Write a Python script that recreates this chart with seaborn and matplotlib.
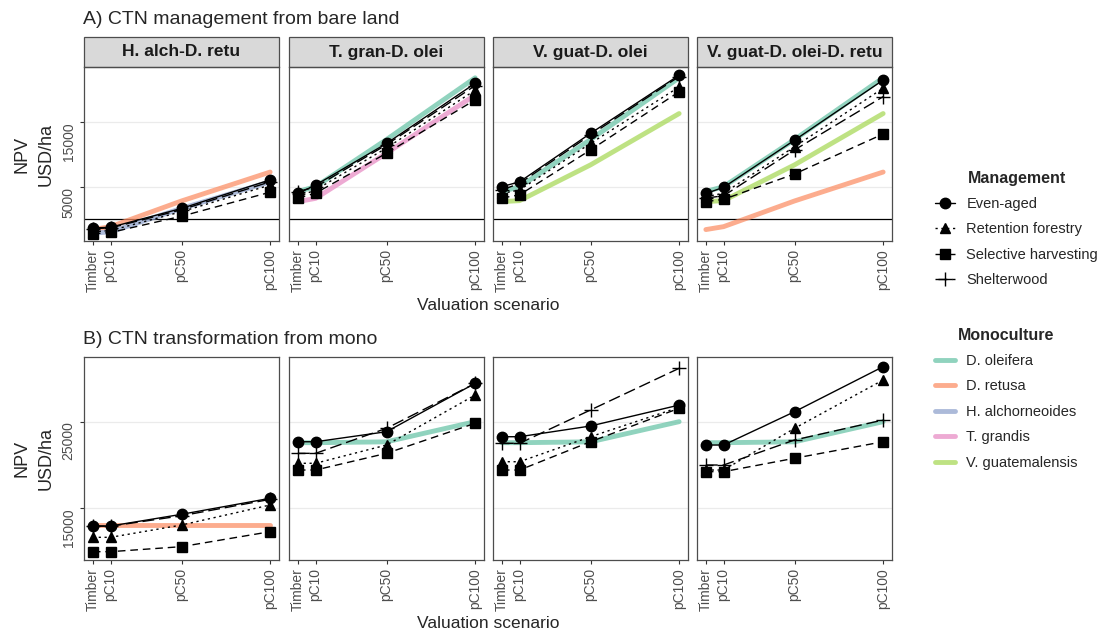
import pandas as pd
import matplotlib.pyplot as plt
import seaborn as sns
from matplotlib.lines import Line2D
from matplotlib.patches import Rectangle

scenarios = ["Timber", "pC10", "pC50", "pC100"]
carbon_price = [0, 10, 50, 100]
mixtures = ["H. alch-D. retu", "T. gran-D. olei", "V. guat-D. olei", "V. guat-D. olei-D. retu"]
managements = ["Even-aged", "Retention forestry", "Selective harvesting", "Shelterwood"]
monocultures = ["D. oleifera", "D. retusa", "H. alchorneoides", "T. grandis", "V. guatemalensis"]

# A) management from bare land, one row per mixture (Timber, pC10, pC50, pC100)
bare_even_aged = [[-1300, -1200, 1700, 6100],
                  [4000, 5300, 11700, 20950],
                  [5050, 5800, 13250, 22200],
                  [4000, 4950, 12200, 21450]]
bare_retention = [[-1900, -1700, 1200, 5300],
                  [3500, 4550, 11000, 19900],
                  [4000, 4550, 11700, 20400],
                  [3500, 4050, 11200, 20200]]
bare_selective = [[-2200, -2000, 500, 4200],
                  [3300, 4050, 10200, 18400],
                  [3300, 3800, 10700, 19650],
                  [2750, 3100, 7000, 13150]]
bare_shelterwood = [[-1400, -1300, 1500, 5800],
                    [4300, 5000, 11500, 20600],
                    [4550, 5550, 13000, 22000],
                    [3300, 3650, 10700, 18900]]

bare_d_oleifera = [4300, 5050, 12300, 21800]
bare_d_retusa = [-1550, -1100, 2850, 7300]
bare_h_alchorneoides = [-2100, -1900, 1700, 5800]
bare_t_grandis = [2750, 3250, 10200, 19150]
bare_v_guatemalensis = [2750, 2900, 8400, 16300]
bare_monos_in_panel = [["D. retusa", "H. alchorneoides"],
                       ["D. oleifera", "T. grandis"],
                       ["D. oleifera", "V. guatemalensis"],
                       ["D. oleifera", "V. guatemalensis", "D. retusa"]]

# B) transformation from monoculture
trans_even_aged = [[12920, 12920, 14270, 16120],
                   [22660, 22660, 23820, 29410],
                   [23240, 23240, 24480, 26900],
                   [22280, 22280, 26130, 31340]]
trans_retention = [[11610, 11610, 13030, 15350],
                   [20170, 20170, 22280, 28060],
                   [20350, 20350, 23240, 26640],
                   [19390, 19390, 24210, 29800]]
trans_selective = [[9950, 9950, 10530, 12260],
                   [19390, 19390, 21320, 24790],
                   [19390, 19390, 22660, 26530],
                   [19200, 19200, 20750, 22660]]
trans_shelterwood = [[12900, 12900, 14100, 16000],
                     [21320, 21320, 24210, 29400],
                     [22480, 22480, 26330, 31150],
                     [19970, 19970, 22860, 25170]]

trans_d_oleifera = [22550, 22550, 22650, 24980]
trans_d_retusa = [13030, 13030, 13030, 13030]
trans_monos_in_panel = [["D. retusa"], ["D. oleifera"], ["D. oleifera"], ["D. oleifera"]]


def management_frame(even, ret, sel, shel):
    rows = []
    for mi, mix in enumerate(mixtures):
        for man, vals in zip(managements, [even, ret, sel, shel]):
            for sc, cp, v in zip(scenarios, carbon_price, vals[mi]):
                rows.append({"Mixture": mix, "Management": man, "Scenario": sc, "Carbon": cp, "NPV": v})
    return pd.DataFrame(rows)


def mono_frame(values, in_panel):
    rows = []
    for mi, mix in enumerate(mixtures):
        for mono in in_panel[mi]:
            for sc, cp, v in zip(scenarios, carbon_price, values[mono]):
                rows.append({"Mixture": mix, "Monoculture": mono, "Scenario": sc, "Carbon": cp, "NPV": v})
    return pd.DataFrame(rows)


bare_man = management_frame(bare_even_aged, bare_retention, bare_selective, bare_shelterwood)
trans_man = management_frame(trans_even_aged, trans_retention, trans_selective, trans_shelterwood)
bare_mono = mono_frame({"D. oleifera": bare_d_oleifera, "D. retusa": bare_d_retusa,
                        "H. alchorneoides": bare_h_alchorneoides, "T. grandis": bare_t_grandis,
                        "V. guatemalensis": bare_v_guatemalensis}, bare_monos_in_panel)
trans_mono = mono_frame({"D. oleifera": trans_d_oleifera, "D. retusa": trans_d_retusa}, trans_monos_in_panel)

sns.set_style("white")
plt.rcParams['font.family'] = ['Liberation Sans', 'DejaVu Sans']

mono_colors = dict(zip(monocultures, sns.color_palette("Set2", 5)))
mono_alpha = 0.72
# seaborn refuses to mix filled and line markers, so "P" stands in for "+" and is swapped after drawing
marker_map = {"Even-aged": "o", "Retention forestry": "^", "Selective harvesting": "s", "Shelterwood": "P"}
dash_map = {"Even-aged": "", "Retention forestry": (1.6, 2.6), "Selective harvesting": (5.5, 3.5), "Shelterwood": (8.5, 3.5)}

W, H = 1099, 635
fig = plt.figure(figsize=(W / 100, H / 100), dpi=100)

lefts = [84, 289, 493, 697]
pw = 195
rows = [
    (bare_man, bare_mono, (67, 241), (-3308, 23462), [5000, 15000], True),
    (trans_man, trans_mono, (357, 560), (8988, 32457), [15000, 25000], False),
]

for man_df, mono_df, (top, bottom), ylim, yticks, top_row in rows:
    for i, mix in enumerate(mixtures):
        ax = fig.add_axes([lefts[i] / W, 1 - bottom / H, pw / W, (bottom - top) / H])
        for yv in yticks:
            ax.axhline(yv, color='#EBEBEB', lw=0.9, zorder=0)
        if top_row:
            ax.axhline(0, color='black', lw=0.9, zorder=1)
        sns.lineplot(data=mono_df[mono_df["Mixture"] == mix], x="Carbon", y="NPV", hue="Monoculture",
                     palette=mono_colors, linewidth=3.5, alpha=mono_alpha, errorbar=None, legend=False, ax=ax)
        sns.lineplot(data=man_df[man_df["Mixture"] == mix], x="Carbon", y="NPV", style="Management",
                     style_order=managements, markers=marker_map, dashes=dash_map, color="black",
                     linewidth=1.0, markersize=7.5, markeredgecolor="black", markeredgewidth=1.0,
                     errorbar=None, legend=False, ax=ax)
        for line in ax.lines:
            if line.get_marker() == 'P':
                line.set_marker('+')
                line.set_markersize(10)
        ax.set_xlim(-5, 105)
        ax.set_ylim(*ylim)
        ax.set_xlabel("")
        ax.set_ylabel("")
        ax.set_xticks(carbon_price)
        ax.set_xticklabels(scenarios, rotation=90, fontsize=10, color='#4D4D4D')
        if i == 0:
            ax.set_yticks(yticks, labels=[str(v) for v in yticks], rotation=90, va='top',
                          fontsize=10, color='#4D4D4D')
            ax.tick_params(axis='y', length=3, width=0.8, color='#333333', pad=3, left=True)
        else:
            ax.set_yticks(yticks)
            ax.tick_params(axis='y', left=False, labelleft=False)
        ax.tick_params(axis='x', length=3, width=0.8, color='#333333', pad=3, bottom=True)
        for sp in ax.spines.values():
            sp.set_color('#4D4D4D')
            sp.set_linewidth(0.9)
        if top_row:
            ax.add_patch(Rectangle((0, 1), 1, 30 / (bottom - top), transform=ax.transAxes,
                                   facecolor='#D9D9D9', edgecolor='#4D4D4D', lw=0.9, clip_on=False))
            ax.text(0.5, 1 + 15 / (bottom - top), mix, transform=ax.transAxes, ha='center', va='center',
                    fontsize=12.5, fontweight='bold', color='#1A1A1A')

fig.text(83 / W, 1 - 20 / H, "A) CTN management from bare land", fontsize=14, ha='left', va='center')
fig.text(83 / W, 1 - 339 / H, "B) CTN transformation from mono", fontsize=14, ha='left', va='center')
for yc in [154, 458]:
    fig.text(34 / W, 1 - yc / H, "NPV\nUSD/ha", rotation=90, fontsize=13, ha='center', va='center',
             multialignment='center', linespacing=1.6)
for yc in [305, 624]:
    fig.text(488 / W, 1 - yc / H, "Valuation scenario", fontsize=12.5, ha='center', va='center')

man_handles = [Line2D([], [], color='black', marker='+' if m == "Shelterwood" else marker_map[m],
                      markersize=10 if m == "Shelterwood" else 7.5,
                      markeredgewidth=1.0, lw=1.0, dashes=dash_map[m] if dash_map[m] else (None, None))
               for m in managements]
leg1 = fig.legend(man_handles, managements, title="Management", loc="upper left",
                  bbox_to_anchor=(935 / W, 1 - 171 / H), frameon=False, fontsize=10.5,
                  title_fontproperties={'weight': 'bold', 'size': 11.5}, handlelength=1.4,
                  handletextpad=0.75, labelspacing=0.78, borderpad=0, borderaxespad=0)
mono_handles = [Line2D([], [], color=mono_colors[m], lw=3.5, alpha=mono_alpha) for m in monocultures]
leg2 = fig.legend(mono_handles, monocultures, title="Monoculture", loc="upper left",
                  bbox_to_anchor=(935 / W, 1 - 328 / H), frameon=False, fontsize=10.5,
                  title_fontproperties={'weight': 'bold', 'size': 11.5}, handlelength=1.4,
                  handletextpad=0.75, labelspacing=0.78, borderpad=0, borderaxespad=0)
for leg in (leg1, leg2):
    leg._legend_box.sep = 8

fig.savefig("out.png", dpi=100)
